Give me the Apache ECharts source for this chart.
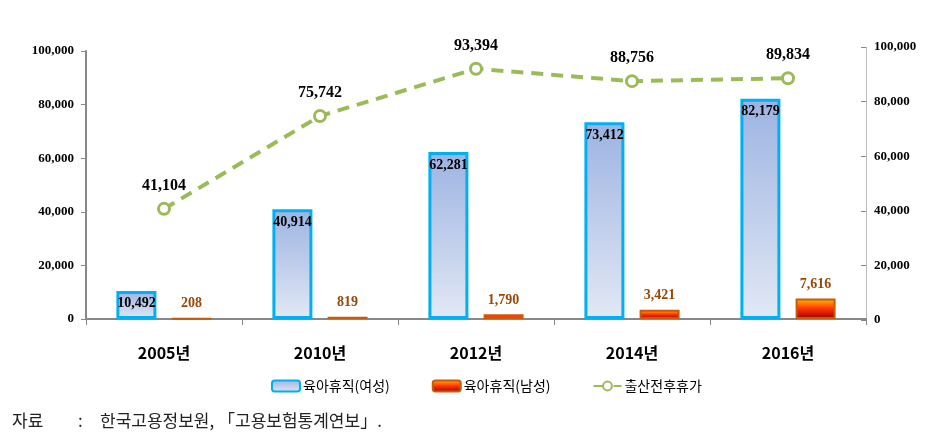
<!DOCTYPE html>
<html><head><meta charset="utf-8">
<script src="https://cdn.jsdelivr.net/npm/echarts@6/dist/echarts.min.js"></script>
<style>html,body{margin:0;padding:0;background:#fff}#c{width:937px;height:442px}</style>
</head><body><div id="c"></div>
<script>
var categories = ['2005년','2010년','2012년','2014년','2016년'];
var female = [10492, 40914, 62281, 73412, 82179];
var male = [208, 819, 1790, 3421, 7616];
var maternity = [41104, 75742, 93394, 88756, 89834];
var seriesNames = ['육아휴직(여성)','육아휴직(남성)','출산전후휴가'];
var yTicks = [0, 20000, 40000, 60000, 80000, 100000];
var sourceLabel = '자료';
var sourceColon = ':';
var sourceText = '한국고용정보원, 「고용보험통계연보」.';

var chart = echarts.init(document.getElementById('c'));
function fmt(v){return v.toLocaleString('en-US');}
var serif = '"Liberation Serif", "Times New Roman", serif';
var srcFont = '17px "Noto Sans CJK KR"';
chart.setOption({
  animation:false,
  legend:{
    top:374, left:266, itemGap:42, itemWidth:28, itemHeight:11,
    textStyle:{fontFamily:'"Noto Sans CJK KR"', fontSize:14, color:'#000', padding:[0,0,0,-2]},
    data:[{name:seriesNames[0]},{name:seriesNames[1]},{name:seriesNames[2]}]
  },
  graphic:[
    {type:'text', left:12, top:412, style:{text:sourceLabel, font:srcFont, fill:'#222'}},
    {type:'text', left:78, top:412, style:{text:sourceColon, font:srcFont, fill:'#222'}},
    {type:'text', left:100, top:412, style:{text:sourceText, font:srcFont, fill:'#222'}}
  ],
  grid:[
    {left:86, right:71, top:51, bottom:123, containLabel:false},
    {left:86, right:71, top:47, bottom:122, containLabel:false}
  ],
  xAxis:[
    {type:'category', gridIndex:0, data:categories,
     axisLine:{lineStyle:{color:'#888', width:2}},
     axisTick:{show:true, length:6, lineStyle:{color:'#888'}},
     axisLabel:{fontFamily:'"Noto Sans CJK KR"', fontWeight:'bold', fontSize:16, color:'#000', margin:26}},
    {type:'category', gridIndex:1, data:categories, show:false}
  ],
  yAxis:[
    {type:'value', gridIndex:0, min:0, max:100000, interval:20000,
     axisLine:{show:true, lineStyle:{color:'#888', width:2}},
     axisTick:{show:true, length:5, lineStyle:{color:'#888'}},
     splitLine:{show:false},
     axisLabel:{fontFamily:serif, fontWeight:'bold', fontSize:13, color:'#000', margin:12, formatter:function(v){return fmt(v);}}},
    {type:'value', gridIndex:1, position:'right', min:0, max:100000, interval:20000,
     axisLine:{show:true, lineStyle:{color:'#bbb', width:1}},
     axisTick:{show:true, length:5, inside:true, lineStyle:{color:'#888'}},
     splitLine:{show:false},
     axisLabel:{fontFamily:serif, fontWeight:'bold', fontSize:13, color:'#000', margin:8, formatter:function(v){return fmt(v);}}}
  ],
  series:[
    {name:seriesNames[0], type:'bar', xAxisIndex:0, yAxisIndex:0, data:female, barWidth:40, barGap:'38%',
     itemStyle:{borderColor:'#00b0f0', borderWidth:3,
       color:new echarts.graphic.LinearGradient(0,0,0,1,[{offset:0,color:'#9cb3e2'},{offset:1,color:'#e2e8f5'}])},
     label:{show:true, position:'insideTop', distance:6, fontFamily:serif, fontWeight:'bold', fontSize:14, color:'#000',
       formatter:function(p){return fmt(p.value);}}},
    {name:seriesNames[1], type:'bar', xAxisIndex:0, yAxisIndex:0, data:male, barWidth:40,
     itemStyle:{borderColor:'#c55a11', borderWidth:2,
       color:new echarts.graphic.LinearGradient(0,0,0,1,[{offset:0,color:'#ffc000'},{offset:0.5,color:'#ff3300'},{offset:1,color:'#990000'}])},
     label:{show:true, position:'top', distance:7, fontFamily:serif, fontWeight:'bold', fontSize:14, color:'#984807',
       formatter:function(p){return fmt(p.value);}}},
    {name:seriesNames[2], type:'line', xAxisIndex:0, yAxisIndex:0, data:maternity,
     lineStyle:{color:'#9bbb59', width:4, type:[12,8]},
     symbol:'circle', symbolSize:11, itemStyle:{color:'#fff', borderColor:'#9bbb59', borderWidth:3},
     label:{show:true, position:'top', distance:8, fontFamily:serif, fontWeight:'bold', fontSize:16, color:'#000',
       formatter:function(p){return fmt(p.value);}}}
  ]
});
</script></body></html>
